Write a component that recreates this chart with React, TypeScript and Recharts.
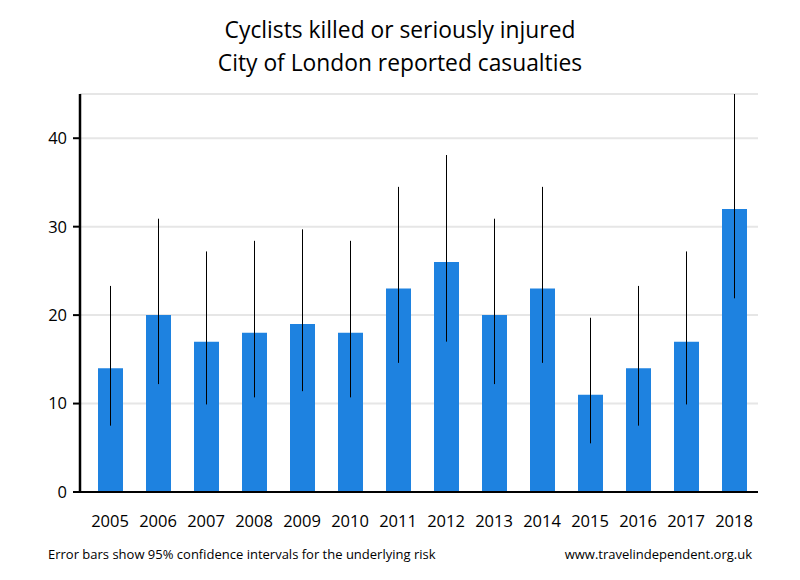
import React from 'react';
import { BarChart, Bar, XAxis, YAxis, CartesianGrid, ErrorBar } from 'recharts';

// Reported casualties per year, with 95% confidence interval ends
const YEARS = ['2005', '2006', '2007', '2008', '2009', '2010', '2011', '2012', '2013', '2014', '2015', '2016', '2017', '2018'];
const CASUALTIES = [14, 20, 17, 18, 19, 18, 23, 26, 20, 23, 11, 14, 17, 32];
const CI_LOW = [7.5, 12.2, 9.9, 10.7, 11.4, 10.7, 14.6, 17.0, 12.2, 14.6, 5.5, 7.5, 9.9, 21.9];
const CI_HIGH = [23.3, 30.9, 27.2, 28.4, 29.7, 28.4, 34.5, 38.1, 30.9, 34.5, 19.7, 23.3, 27.2, 45];
const Y_TICKS = [0, 10, 20, 30, 40];

const FONT = '"Open Sans", sans-serif';

const data = YEARS.map((year, i) => ({
  year,
  value: CASUALTIES[i],
  err: [CASUALTIES[i] - CI_LOW[i], CI_HIGH[i] - CASUALTIES[i]],
}));

export default function App() {
  return (
    <div style={{ position: 'absolute', left: 0, top: 0, width: 800, height: 580, background: '#fff', fontFamily: FONT, color: '#000' }}>
      <div style={{ position: 'absolute', left: 0, top: 13, width: 800, textAlign: 'center', fontSize: 22.8, lineHeight: '33px' }}>
        <div>Cyclists killed or seriously injured</div>
        <div>City of London reported casualties</div>
      </div>

      <BarChart
        width={800}
        height={580}
        data={data}
        margin={{ top: 94, right: 42, bottom: 58, left: 0 }}
        style={{ position: 'absolute', left: 0, top: 0 }}
      >
        <CartesianGrid horizontal vertical={false} stroke="#e6e6e6" strokeWidth={2} />
        <XAxis
          dataKey="year"
          height={30}
          padding={{ left: 6, right: 0 }}
          axisLine={{ stroke: '#000', strokeWidth: 2 }}
          tickLine={false}
          tickSize={0}
          tickMargin={23}
          tick={{ fill: '#000', fontSize: 16.5, fontFamily: FONT }}
          interval={0}
        />
        <YAxis
          width={80}
          domain={[0, 45]}
          allowDataOverflow
          ticks={Y_TICKS}
          axisLine={{ stroke: '#000', strokeWidth: 2.5 }}
          tickLine={{ stroke: '#000', strokeWidth: 2 }}
          tickSize={7}
          tickMargin={6}
          tick={{ fill: '#000', fontSize: 16.5, fontFamily: FONT }}
        />
        <Bar dataKey="value" fill="#1e82e0" barSize={25} isAnimationActive={false}>
          <ErrorBar dataKey="err" width={0} stroke="#000" strokeWidth={1} direction="y" isAnimationActive={false} />
        </Bar>
      </BarChart>

      <div style={{ position: 'absolute', left: 48, top: 545, fontSize: 13 }}>
        Error bars show 95% confidence intervals for the underlying risk
      </div>
      <div style={{ position: 'absolute', right: 48, top: 545, fontSize: 13 }}>
        www.travelindependent.org.uk
      </div>
    </div>
  );
}
